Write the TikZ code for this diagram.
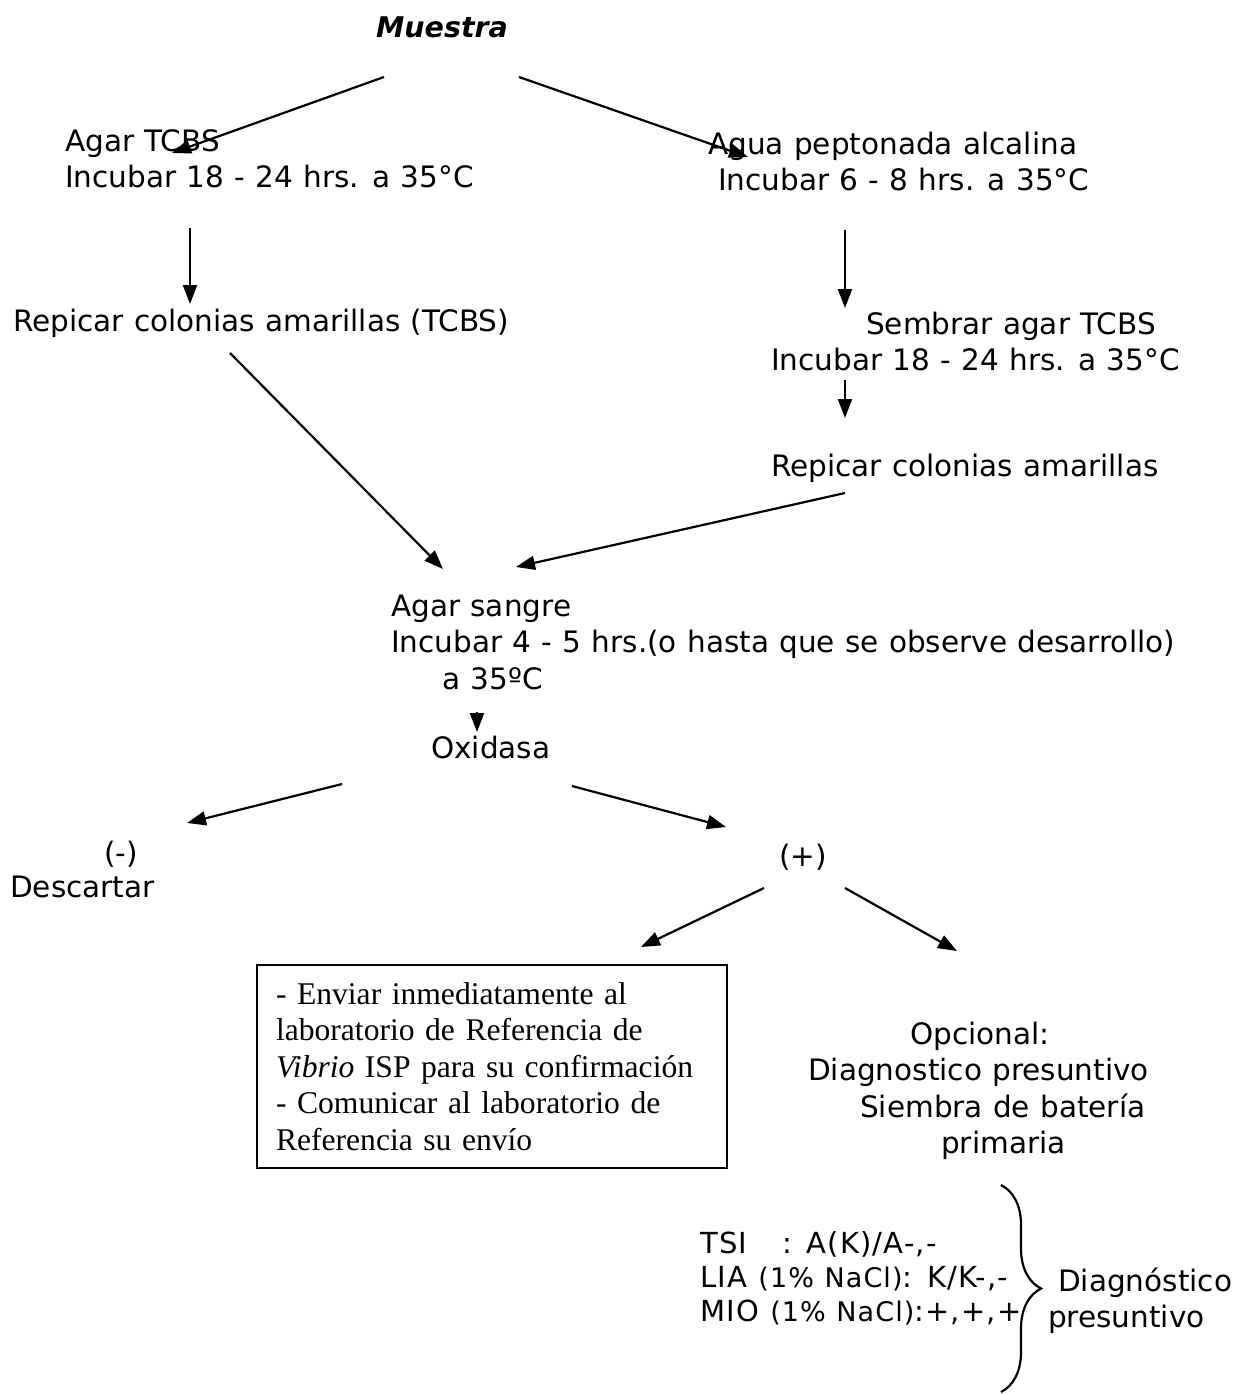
\documentclass[tikz,border=0pt]{standalone}
\usepackage{fontspec}
\setmainfont{DejaVu Sans}[WordSpace=1.1]
\newfontfamily\boxserif{Liberation Serif}
\newfontfamily\testsfont{DejaVu Sans}[WordSpace=1.1, LetterSpace=4]
\usetikzlibrary{arrows.meta,decorations.pathreplacing}
\newcommand{\fs}{\rule{0pt}{25pt}}
\begin{document}
\begin{tikzpicture}[x=1pt,y=-1pt,
  txt/.style={inner sep=0pt, anchor=north west, align=left, font=\fontsize{29.5}{36.5}\selectfont},
  arr/.style={line width=2.2pt, -{Triangle[length=19pt,width=14pt]}}]
\useasboundingbox[fill=white] (0,0) rectangle (1241,1394);

% nodes
\node[inner sep=0pt, font=\fontsize{28.5}{34}\selectfont\bfseries\itshape] (muestra) at (442,27) {Muestra};
\node[txt] (agar) at (65,126) {\fs Agar TCBS\\Incubar 18 - 24 hrs. a 35°C};
\node[txt] (agua) at (708,129) {\fs Agua peptonada alcalina\\\hspace*{10pt}Incubar 6 - 8 hrs. a 35°C};
\node[txt] (rep1) at (13,306) {\fs Repicar colonias amarillas (TCBS)};
\node[txt] (sembrar) at (771,309) {\hspace*{95pt}\fs Sembrar agar TCBS\\Incubar 18 - 24 hrs. a 35°C};
\node[txt] (rep2) at (771,451) {\fs Repicar colonias amarillas};
\node[txt] (sangre) at (391,591) {\fs Agar sangre\\Incubar 4 - 5 hrs.(o hasta que se observe desarrollo)\\\hspace*{51pt}a 35ºC};
\node[txt] (oxidasa) at (431,733) {\fs Oxidasa};
\node[txt, font=\fontsize{29.5}{34}\selectfont] (neg) at (10,838) {\hspace*{94pt}\fs(-)\\Descartar};
\node[inner sep=0pt, font=\fontsize{29.5}{34}\selectfont] (pos) at (803,857) {(+)};
\node[draw, line width=2pt, inner sep=0pt, minimum width=470pt, minimum height=203pt,
      text width=432pt, align=left, font=\boxserif\fontsize{31.6}{36.5}\selectfont]
      (envio) at (492,1066.5)
      {- Enviar inmediatamente al\\laboratorio de Referencia de\\\textit{Vibrio} ISP para su confirmación\\- Comunicar al laboratorio de\\Referencia su envío};
\node[txt] (opc) at (808,1019) {\hspace*{102pt}\fs Opcional:\\Diagnostico presuntivo\\\hspace*{52pt}Siembra de batería\\\hspace*{133pt}primaria};
\node[txt, font=\testsfont\fontsize{29}{34}\selectfont] (tests) at (700,1228)
  {\fs TSI\hspace*{35pt}: A(K)/A-,-\\LIA {\fontsize{27}{34}\selectfont(1\% NaCl)}: K/K-,-\\MIO {\fontsize{27}{34}\selectfont(1\% NaCl)}:+,+,+};
\node[txt] (diag) at (1048,1266) {\hspace*{10pt}\fs Diagnóstico\\presuntivo};

% connector end points
\coordinate (m1) at (384,77);
\coordinate (m2) at (519,77);
\coordinate (a1) at (172,153);
\coordinate (w1) at (748,157);
\coordinate (l1) at (190,228);
\coordinate (l2) at (190,304);
\coordinate (r1) at (845,230);
\coordinate (r2) at (845,308);
\coordinate (r3) at (845,380);
\coordinate (r4) at (845,418);
\coordinate (p1) at (230,353);
\coordinate (p2) at (443,569);
\coordinate (q1) at (845,493);
\coordinate (q2) at (516,567);
\coordinate (s1) at (477,712);
\coordinate (s2) at (477,732);
\coordinate (o1) at (342,784);
\coordinate (o2) at (187,823);
\coordinate (o3) at (572,786);
\coordinate (o4) at (726,827);
\coordinate (v1) at (764,888);
\coordinate (v2) at (641,947);
\coordinate (v3) at (845,888);
\coordinate (v4) at (957,951);

\draw[arr] (m1) -- (a1);
\draw[arr] (m2) -- (w1);
\draw[arr] (l1) -- (l2);
\draw[arr] (r1) -- (r2);
\draw[arr] (r3) -- (r4);
\draw[arr] (p1) -- (p2);
\draw[arr] (q1) -- (q2);
\draw[arr] (s1) -- (s2);
\draw[arr] (o1) -- (o2);
\draw[arr] (o3) -- (o4);
\draw[arr] (v1) -- (v2);
\draw[arr] (v3) -- (v4);

% brace
\coordinate (b1) at (1001,1185);
\coordinate (b2) at (1001,1392);
\draw[line width=2.2pt, decorate, decoration={brace, amplitude=40pt}] (b1) -- (b2);
\end{tikzpicture}
\end{document}
